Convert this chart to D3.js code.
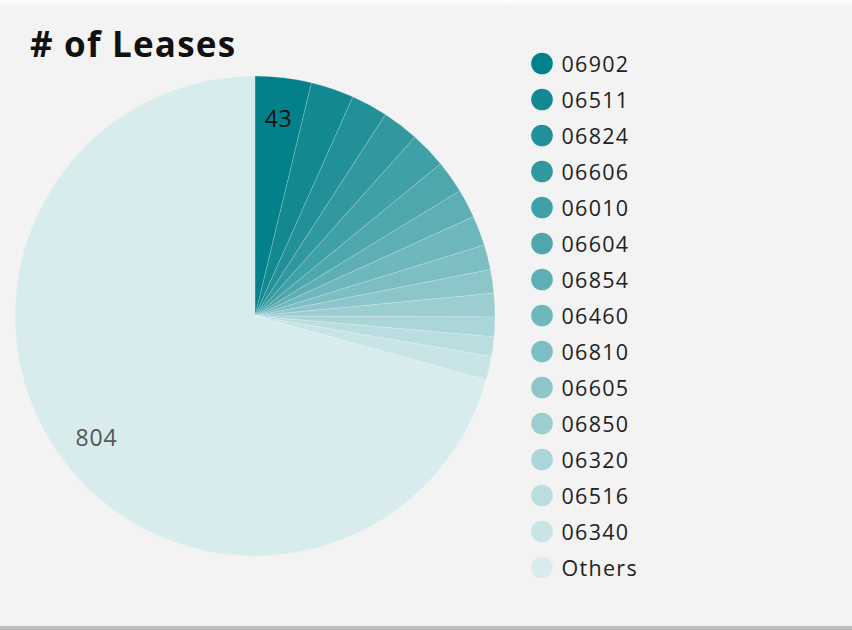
<!DOCTYPE html>
<html>
<head>
<meta charset="utf-8">
<script src="https://cdn.jsdelivr.net/npm/d3@7"></script>
<style>
  html, body { margin: 0; padding: 0; background: #f3f3f3; }
  svg { display: block; }
</style>
</head>
<body>
<svg id="chart" width="852" height="630"></svg>
<script>
const title = "# of Leases";
const categories = ["06902","06511","06824","06606","06010","06604","06854","06460","06810","06605","06850","06320","06516","06340","Others"];
const values = [43, 33, 28, 28, 28, 25, 22, 23, 19, 18, 18, 15, 15, 18, 804];
const shownLabels = ["06902", "Others"];

const W = 852, H = 630;
const svg = d3.select("#chart");

const defs = svg.append("defs");
const g1 = defs.append("linearGradient").attr("id", "topfade").attr("x1", 0).attr("y1", 0).attr("x2", 0).attr("y2", 1);
g1.append("stop").attr("offset", "0%").attr("stop-color", "#ffffff");
g1.append("stop").attr("offset", "100%").attr("stop-color", "#f3f3f3");
svg.append("rect").attr("x", 0).attr("y", 0).attr("width", W).attr("height", H).attr("fill", "#f3f3f3");
svg.append("rect").attr("x", 0).attr("y", 0).attr("width", W).attr("height", 7).attr("fill", "url(#topfade)");
svg.append("rect").attr("x", 0).attr("y", 626).attr("width", W).attr("height", 4).attr("fill", "#bdbdbd");

svg.append("text")
  .attr("x", 30).attr("y", 57)
  .attr("font-family", "'Open Sans', sans-serif")
  .attr("font-weight", 700)
  .attr("font-size", 35)
  .attr("letter-spacing", 1.2)
  .attr("fill", "#111")
  .text(title);

const data = categories.map((c, i) => ({ cat: c, value: values[i] }));

const color = d3.scaleOrdinal()
  .domain(categories)
  .range(categories.map((c, i) => d3.interpolateRgb("#03818a", "#d8ecee")(i / (categories.length - 1))));

const cx = 255, cy = 316, R = 240;
const pie = d3.pie().sort(null).value(d => d.value);
const arc = d3.arc().innerRadius(0).outerRadius(R);
const labelArc = d3.arc().innerRadius(R * 0.83).outerRadius(R * 0.83);

const gPie = svg.append("g").attr("transform", `translate(${cx},${cy})`);
const arcs = pie(data);

gPie.selectAll("path").data(arcs).join("path")
  .attr("d", arc)
  .attr("fill", d => color(d.data.cat))
  .attr("stroke", "#ffffff")
  .attr("stroke-opacity", 0.3)
  .attr("stroke-width", 0.6);

gPie.selectAll("text.lbl").data(arcs.filter(d => shownLabels.includes(d.data.cat))).join("text")
  .attr("class", "lbl")
  .attr("transform", d => `translate(${labelArc.centroid(d)})`)
  .attr("text-anchor", "middle")
  .attr("dominant-baseline", "central")
  .attr("font-family", "'Open Sans', sans-serif")
  .attr("font-size", 23)
  .attr("letter-spacing", 0.8)
  .attr("fill", d => d.index === 0 ? "#111" : "#555")
  .text(d => d.data.value);

const legY = d3.scalePoint().domain(categories).range([63.5, 567.5]);
const leg = svg.append("g");
const rows = leg.selectAll("g").data(categories).join("g")
  .attr("transform", c => `translate(542,${legY(c)})`);
rows.append("circle").attr("r", 10.8).attr("fill", c => color(c));
rows.append("text")
  .attr("x", 19.5).attr("y", 0)
  .attr("dominant-baseline", "central")
  .attr("font-family", "'Open Sans', sans-serif")
  .attr("font-size", 21.5)
  .attr("letter-spacing", 1.3)
  .attr("fill", "#222")
  .text(c => c);
</script>
</body>
</html>
